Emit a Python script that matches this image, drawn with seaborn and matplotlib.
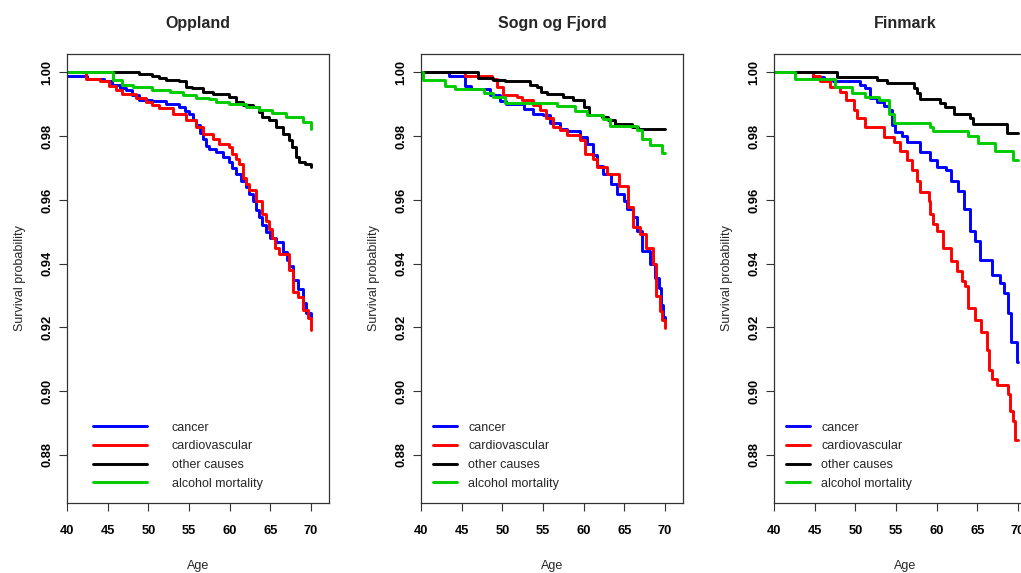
import matplotlib
matplotlib.use("Agg")
import matplotlib.pyplot as plt
import seaborn as sns

# ---------------- data ----------------
panel_titles = ["Oppland", "Sogn og Fjord", "Finmark"]
causes = ["cancer", "cardiovascular", "other causes", "alcohol mortality"]
x_ticks = [40, 45, 50, 55, 60, 65, 70]
y_ticks = [0.88, 0.90, 0.92, 0.94, 0.96, 0.98, 1.00]

# Oppland
opp_cancer_age = [40, 42.5, 44.5, 45.5, 46.5, 47.2, 48.0, 48.9, 50.5, 52.2, 53.8, 54.5, 55.0, 55.5, 55.8, 56.3, 56.7, 57.1, 57.5, 58.3, 59.2, 59.9, 60.3, 60.8, 61.4, 62.0, 62.4, 62.8, 63.2, 63.6, 64.0, 64.4, 65.0, 65.7, 66.5, 67.0, 67.3, 67.8, 68.4, 69.0, 69.4, 70.0]
opp_cancer_surv = [0.9989, 0.998, 0.9972, 0.996, 0.995, 0.9945, 0.993, 0.9914, 0.991, 0.990, 0.9893, 0.988, 0.987, 0.985, 0.9835, 0.981, 0.979, 0.977, 0.976, 0.975, 0.9735, 0.972, 0.970, 0.968, 0.966, 0.964, 0.962, 0.9598, 0.957, 0.9545, 0.952, 0.950, 0.948, 0.9468, 0.9436, 0.941, 0.9394, 0.935, 0.9319, 0.9276, 0.9244, 0.9232]
opp_cardio_age = [40, 42.3, 44.0, 45.2, 46.0, 46.8, 48.5, 49.7, 50.5, 51.3, 53.0, 54.6, 55.8, 56.7, 57.9, 58.7, 59.9, 60.3, 60.8, 61.2, 61.6, 62.0, 62.4, 63.2, 64.0, 64.4, 64.8, 65.2, 65.6, 66.1, 67.3, 67.8, 68.4, 69.0, 69.6, 70.0]
opp_cardio_surv = [1.000, 0.998, 0.9972, 0.9958, 0.9945, 0.9932, 0.9921, 0.9908, 0.9897, 0.9887, 0.9871, 0.985, 0.9829, 0.9808, 0.9792, 0.9777, 0.9766, 0.9745, 0.973, 0.9714, 0.967, 0.965, 0.963, 0.9598, 0.9556, 0.9535, 0.951, 0.948, 0.945, 0.943, 0.938, 0.931, 0.9297, 0.9255, 0.9229, 0.9192]
opp_other_age = [40, 48.9, 50.5, 51.3, 52.2, 53.8, 54.6, 55.4, 56.7, 57.9, 59.9, 60.8, 61.6, 62.8, 63.6, 64.0, 64.8, 65.7, 66.5, 67.3, 67.7, 68.1, 68.5, 69.3, 70.0]
opp_other_surv = [1.000, 0.9995, 0.999, 0.9984, 0.9977, 0.9974, 0.9954, 0.995, 0.994, 0.9932, 0.9924, 0.9908, 0.9898, 0.9893, 0.9877, 0.986, 0.985, 0.9829, 0.9808, 0.9787, 0.9766, 0.9735, 0.972, 0.9714, 0.9703]
opp_alcohol_age = [40, 45.6, 46.8, 48.1, 50.5, 52.6, 54.2, 55.8, 57.5, 58.3, 59.9, 62.0, 63.6, 65.2, 66.9, 69.0, 70.0]
opp_alcohol_surv = [1.000, 0.9977, 0.9961, 0.9953, 0.9945, 0.994, 0.993, 0.9921, 0.9917, 0.9906, 0.990, 0.9893, 0.9882, 0.9872, 0.9861, 0.9845, 0.9824]

# Sogn og Fjord
sogn_cancer_age = [40, 43.4, 45.4, 46.2, 48.5, 49.7, 50.5, 52.6, 53.8, 55.0, 55.9, 57.1, 57.9, 59.5, 60.4, 61.2, 61.6, 62.4, 63.3, 64.1, 64.9, 65.3, 66.1, 66.5, 67.1, 68.2, 68.8, 69.2, 69.5, 69.8, 70.0]
sogn_cancer_surv = [1.000, 0.999, 0.9958, 0.9947, 0.9929, 0.991, 0.990, 0.9884, 0.9871, 0.9866, 0.984, 0.9824, 0.9817, 0.9798, 0.9777, 0.974, 0.9708, 0.9682, 0.965, 0.9619, 0.9598, 0.9572, 0.9545, 0.9503, 0.944, 0.9398, 0.9356, 0.9324, 0.9271, 0.9234, 0.9222]
sogn_cardio_age = [40, 45.4, 48.7, 49.3, 50.1, 51.8, 52.4, 53.8, 54.6, 55.4, 56.2, 57.1, 57.9, 59.5, 60.1, 61.2, 61.6, 62.9, 64.3, 65.5, 66.1, 66.9, 67.7, 68.5, 68.9, 69.4, 69.6, 70.0]
sogn_cardio_surv = [1.000, 0.999, 0.998, 0.9956, 0.9929, 0.9924, 0.9914, 0.9898, 0.9882, 0.9856, 0.9829, 0.9819, 0.9803, 0.9787, 0.9745, 0.9729, 0.9703, 0.9682, 0.9645, 0.9577, 0.9514, 0.9493, 0.945, 0.9398, 0.9300, 0.925, 0.9223, 0.9197]
sogn_other_age = [40, 47.0, 48.9, 50.3, 53.4, 54.2, 54.8, 55.5, 57.5, 58.7, 60.0, 60.6, 62.2, 63.0, 63.8, 65.9, 66.7, 70.0]
sogn_other_surv = [1.000, 0.9982, 0.9977, 0.9972, 0.9961, 0.9953, 0.994, 0.9932, 0.9924, 0.9914, 0.9893, 0.9866, 0.9861, 0.985, 0.9837, 0.9829, 0.9824, 0.9824]
sogn_alcohol_age = [40, 40.3, 43.0, 44.2, 47.7, 48.9, 50.3, 56.7, 58.9, 60.4, 62.4, 63.2, 66.5, 67.1, 68.2, 69.6, 70.0]
sogn_alcohol_surv = [1.000, 0.9975, 0.9958, 0.9947, 0.9935, 0.9924, 0.9903, 0.9895, 0.9879, 0.9866, 0.9854, 0.9832, 0.9819, 0.9792, 0.9771, 0.9747, 0.9747]

# Finmark
fin_cancer_age = [40, 44.8, 46.1, 47.3, 50.6, 51.2, 51.8, 52.6, 53.5, 54.1, 54.5, 54.9, 55.7, 56.3, 58.0, 59.2, 60.0, 61.2, 61.8, 62.6, 63.3, 64.1, 64.7, 65.3, 66.8, 67.8, 68.3, 68.7, 69.1, 69.9, 70.0]
fin_cancer_surv = [1.000, 0.9987, 0.9979, 0.9974, 0.9961, 0.995, 0.9919, 0.9908, 0.9895, 0.9882, 0.9835, 0.9814, 0.980, 0.9782, 0.975, 0.9724, 0.9703, 0.9693, 0.9661, 0.9629, 0.9571, 0.9503, 0.9471, 0.9413, 0.9366, 0.934, 0.9308, 0.9244, 0.9154, 0.909, 0.909]
fin_cardio_age = [40, 44.8, 45.7, 46.9, 48.1, 48.9, 49.8, 50.2, 51.2, 53.5, 54.7, 55.5, 56.3, 57.0, 57.6, 58.0, 59.0, 59.2, 59.6, 60.0, 60.8, 61.7, 62.5, 63.1, 63.5, 63.9, 64.7, 65.5, 66.2, 66.4, 66.8, 67.4, 68.8, 69.0, 69.4, 69.6, 70.0]
fin_cardio_surv = [1.000, 0.999, 0.9972, 0.9956, 0.994, 0.9914, 0.9882, 0.9856, 0.9829, 0.9798, 0.9782, 0.9755, 0.9724, 0.9693, 0.9661, 0.9624, 0.9598, 0.9556, 0.9524, 0.9503, 0.945, 0.9408, 0.9377, 0.9345, 0.9329, 0.926, 0.9223, 0.9186, 0.9128, 0.9065, 0.9038, 0.902, 0.899, 0.8938, 0.8906, 0.8848, 0.8848]
fin_other_age = [40, 47.7, 52.6, 53.9, 57.2, 57.6, 58.0, 60.4, 61.0, 62.1, 64.1, 64.5, 68.6, 70.0]
fin_other_surv = [1.000, 0.9987, 0.9977, 0.9966, 0.995, 0.9935, 0.9916, 0.9903, 0.9893, 0.9871, 0.9856, 0.9838, 0.981, 0.981]
fin_alcohol_age = [40, 42.6, 47.5, 49.6, 51.2, 52.9, 54.1, 54.7, 59.2, 59.6, 63.9, 65.1, 67.2, 69.4, 70.0]
fin_alcohol_surv = [1.000, 0.9979, 0.9956, 0.9935, 0.9924, 0.9914, 0.9871, 0.9842, 0.9829, 0.9817, 0.980, 0.9779, 0.9754, 0.9724, 0.9724]

panel_data = [
    [(opp_cancer_age, opp_cancer_surv), (opp_cardio_age, opp_cardio_surv),
     (opp_other_age, opp_other_surv), (opp_alcohol_age, opp_alcohol_surv)],
    [(sogn_cancer_age, sogn_cancer_surv), (sogn_cardio_age, sogn_cardio_surv),
     (sogn_other_age, sogn_other_surv), (sogn_alcohol_age, sogn_alcohol_surv)],
    [(fin_cancer_age, fin_cancer_surv), (fin_cardio_age, fin_cardio_surv),
     (fin_other_age, fin_other_surv), (fin_alcohol_age, fin_alcohol_surv)],
]

# ---------------- style ----------------
colors = ["#0000FF", "#FF0000", "#000000", "#00CC00"]
sns.set_style("ticks")
plt.rcParams["font.family"] = ["Liberation Sans", "DejaVu Sans"]

W, H = 1021, 573
fig = plt.figure(figsize=(W / 100, H / 100), dpi=100)
fig.patch.set_facecolor("white")

lefts = [67, 421, 774]
ax_w, ax_bottom, ax_top = 262, 503, 54
legend_anchor = [(0.10, 0.03), (0.046, 0.03), (0.046, 0.03)]
handle_len = [4.3, 1.9, 1.9]
handle_pad = [2.0, 0.9, 0.9]

for i, title in enumerate(panel_titles):
    ax = fig.add_axes([lefts[i] / W, (H - ax_bottom) / H, ax_w / W, (ax_bottom - ax_top) / H])
    for (ages, surv), cause, col in zip(panel_data[i], causes, colors):
        sns.lineplot(x=ages, y=surv, ax=ax, color=col, lw=2.1, label=cause,
                     drawstyle="steps-post", estimator=None, sort=False)
    ax.set_xlim(40, 72.2)
    ax.set_ylim(0.8649, 1.0058)
    ax.set_xticks(x_ticks)
    ax.set_yticks(y_ticks)
    ax.set_xticklabels([str(t) for t in x_ticks], fontweight="bold", fontsize=9.3)
    ax.set_yticklabels([f"{t:.2f}" for t in y_ticks], fontweight="bold", fontsize=9.3,
                       rotation=90, va="center")
    ax.tick_params(axis="x", length=5.5, width=0.8, pad=10, colors="#333333", labelcolor="black")
    ax.tick_params(axis="y", length=5.5, width=0.8, pad=4.5, colors="#333333", labelcolor="black")
    for sp in ax.spines.values():
        sp.set_visible(True)
        sp.set_color("#333333")
        sp.set_linewidth(0.9)
    ax.set_xlabel("Age", fontsize=9, labelpad=17)
    ax.set_ylabel("Survival probability", fontsize=9, labelpad=11)
    ax.set_title(title, fontsize=11.5, fontweight="bold", pad=19)
    ax.legend(loc="lower left", bbox_to_anchor=legend_anchor[i], frameon=False,
              fontsize=9, handlelength=handle_len[i], handletextpad=handle_pad[i],
              labelspacing=0.53, borderpad=0, borderaxespad=0)

fig.savefig("out.png", dpi=100, facecolor="white")
